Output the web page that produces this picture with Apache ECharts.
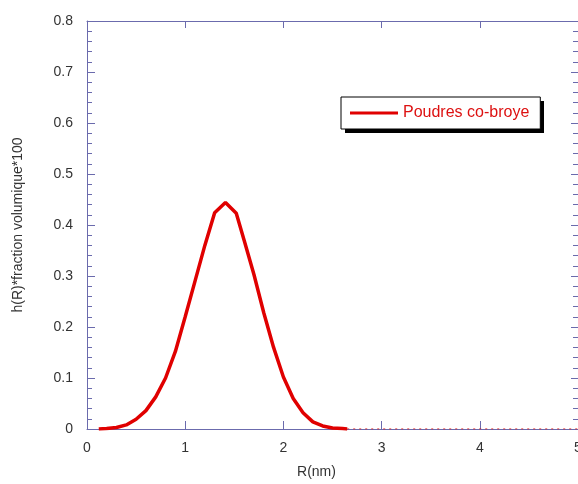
<!DOCTYPE html>
<html>
<head>
<meta charset="utf-8">
<script src="https://cdn.jsdelivr.net/npm/echarts@6/dist/echarts.min.js"></script>
<style>
  html, body { margin: 0; padding: 0; background: #fff; }
  #chart { width: 578px; height: 484px; }
</style>
</head>
<body>
<div id="chart"></div>
<script>
// R (nm) et h(R)*fraction volumique*100
const rValues = [0.12, 0.2, 0.3, 0.4, 0.5, 0.6, 0.7, 0.8, 0.9, 1.0, 1.1, 1.2, 1.3, 1.41, 1.52, 1.6, 1.7, 1.8, 1.9, 2.0, 2.1, 2.2, 2.3, 2.4, 2.5, 2.6, 2.65];
const hValues = [0.000, 0.001, 0.003, 0.008, 0.019, 0.036, 0.063, 0.100, 0.152, 0.220, 0.290, 0.360, 0.424, 0.444, 0.423, 0.370, 0.303, 0.228, 0.160, 0.102, 0.060, 0.032, 0.014, 0.006, 0.002, 0.001, 0.000];
// queue pointillée le long de l'axe
const tailR = [2.65, 5];
const tailH = [0, 0];

const seriesName = 'Poudres co-broye';
const axisColor = '#6b6bad';
const font = 'Liberation Sans, Arial, sans-serif';

const chart = echarts.init(document.getElementById('chart'));

const mainData = rValues.map((r, i) => [r, hValues[i]]);
const tailData = tailR.map((r, i) => [r, tailH[i]]);

const option = {
    animation: false,
    backgroundColor: '#fff',
    grid: { left: 87, top: 21, right: 0, bottom: 55, outerBoundsMode: 'none' },
    // ombre noire décalée derrière la légende
    graphic: [{
        type: 'rect',
        left: 345, top: 101,
        shape: { width: 199, height: 32 },
        style: { fill: '#000' },
        z: 2
    }],
    legend: {
        data: [{ name: seriesName, icon: 'rect' }],
        left: 341,
        top: 97,
        orient: 'vertical',
        padding: [8, 11, 8, 9],
        itemWidth: 48,
        itemHeight: 3,
        backgroundColor: '#fff',
        borderColor: '#000',
        borderWidth: 1,
        borderRadius: 0,
        textStyle: { color: '#dd1111', fontSize: 16, fontFamily: font },
        z: 5
    },
    xAxis: [
        {
            type: 'value',
            min: 0, max: 5, interval: 1,
            name: 'R(nm)',
            nameLocation: 'middle',
            nameGap: 36,
            nameTextStyle: { color: '#333', fontSize: 14, fontFamily: font, padding: [0, 32, 0, 0] },
            axisLine: { show: true, onZero: false, lineStyle: { color: axisColor, width: 1 } },
            axisTick: { show: true, inside: true, length: 8, lineStyle: { color: axisColor } },
            axisLabel: { color: '#333', fontSize: 14, margin: 12, fontFamily: font },
            splitLine: { show: false }
        },
        {
            type: 'value',
            position: 'top',
            min: 0, max: 5, interval: 1,
            axisLine: { show: true, onZero: false, lineStyle: { color: axisColor, width: 1 } },
            axisTick: { show: true, inside: true, length: 7, lineStyle: { color: axisColor } },
            axisLabel: { show: false },
            splitLine: { show: false }
        }
    ],
    yAxis: [
        {
            type: 'value',
            min: 0, max: 0.8, interval: 0.1,
            name: 'h(R)*fraction volumique*100',
            nameLocation: 'middle',
            nameGap: 62,
            nameTextStyle: { color: '#333', fontSize: 14, fontFamily: font },
            axisLine: { show: true, onZero: false, lineStyle: { color: axisColor, width: 1 } },
            axisTick: { show: true, inside: true, length: 8, lineStyle: { color: axisColor } },
            minorTick: { show: true, splitNumber: 5, length: 5, lineStyle: { color: axisColor } },
            axisLabel: { color: '#333', fontSize: 14, margin: 14, fontFamily: font,
                formatter: v => (Math.round(v * 10) / 10).toString() },
            splitLine: { show: false }
        },
        {
            type: 'value',
            position: 'right',
            min: 0, max: 0.8, interval: 0.1,
            axisLine: { show: true, onZero: false, lineStyle: { color: axisColor, width: 1 } },
            axisTick: { show: true, inside: true, length: 7, lineStyle: { color: axisColor } },
            minorTick: { show: true, splitNumber: 5, length: 5, lineStyle: { color: axisColor } },
            axisLabel: { show: false },
            splitLine: { show: false }
        }
    ],
    series: [
        {
            name: 'queue',
            type: 'line',
            data: tailData,
            symbol: 'none',
            silent: true,
            lineStyle: { color: '#dd1111', width: 1, type: [2, 4] },
            z: 1
        },
        {
            name: seriesName,
            type: 'line',
            data: mainData,
            symbol: 'none',
            color: '#e00000',
            lineStyle: { color: '#e00000', width: 3.5 },
            z: 3
        }
    ]
};

chart.setOption(option);
</script>
</body>
</html>
